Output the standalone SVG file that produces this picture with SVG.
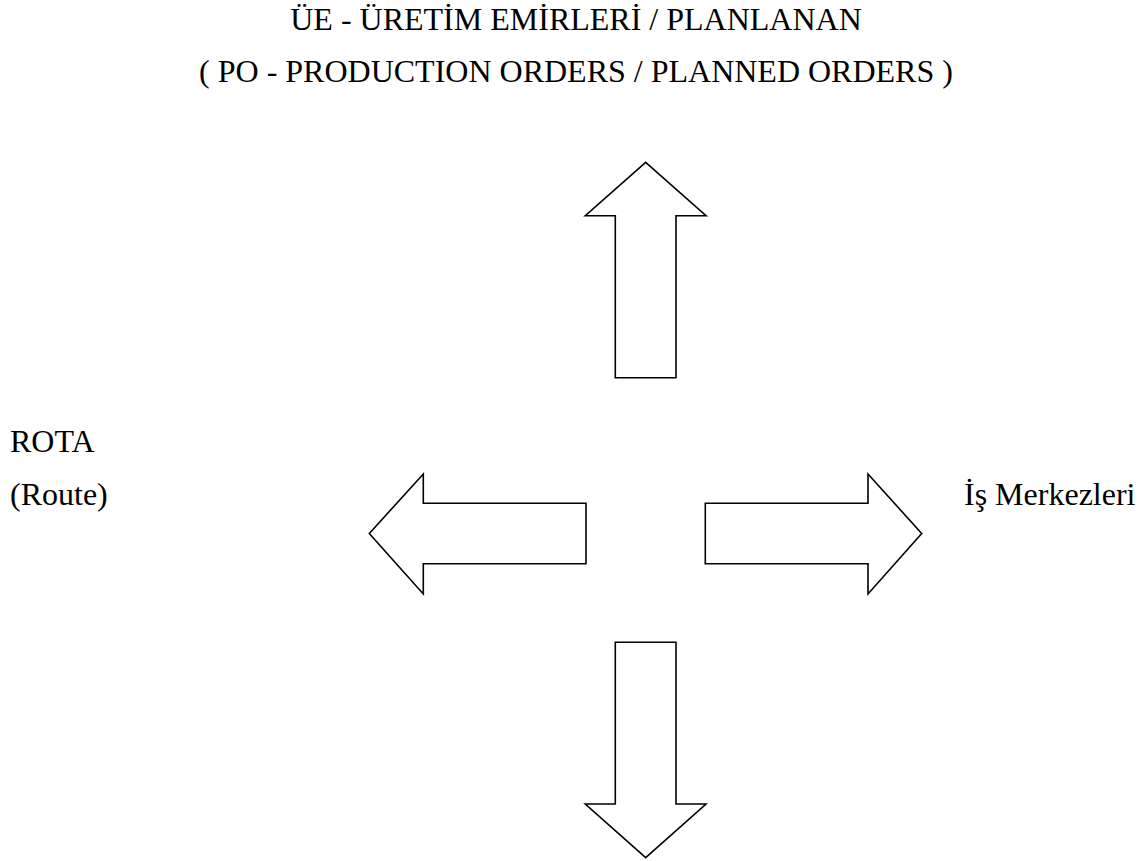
<svg xmlns="http://www.w3.org/2000/svg" width="1147" height="861" viewBox="0 0 1147 861">
  <style>
    text { font-family: "Liberation Serif", "Times New Roman", "DejaVu Serif", serif; font-size: 32px; fill: #000; }
    .block-arrow { fill: #fff; stroke: #000; stroke-width: 1.6; stroke-linejoin: miter; }
  </style>
  <rect width="1147" height="861" fill="#fff"/>

  <!-- title -->
  <g id="title">
    <text x="576" y="30" text-anchor="middle">ÜE - ÜRETİM EMİRLERİ / PLANLANAN</text>
    <text x="576" y="82" text-anchor="middle">( PO - PRODUCTION ORDERS / PLANNED ORDERS )</text>
  </g>

  <!-- side labels -->
  <g id="route">
    <text x="10" y="452">ROTA</text>
    <text x="10" y="505">(Route)</text>
  </g>
  <g id="work-centers">
    <text x="964" y="505">İş Merkezleri</text>
  </g>

  <!-- block arrows radiating from the centre -->
  <g id="connectors">
    <polygon id="arrow-up" class="block-arrow"
      points="645.7,162.3 706,215.7 676,215.7 676,377.7 615.3,377.7 615.3,215.7 585.3,215.7"/>
    <polygon id="arrow-left" class="block-arrow"
      points="369.3,533.5 423.3,474 423.3,503.3 586,503.3 586,563.7 423.3,563.7 423.3,594"/>
    <polygon id="arrow-right" class="block-arrow"
      points="921.7,533.5 868,474 868,503.3 705.3,503.3 705.3,563.7 868,563.7 868,594"/>
    <polygon id="arrow-down" class="block-arrow"
      points="645.7,857.7 706,804 676,804 676,642.3 615.3,642.3 615.3,804 585.3,804"/>
  </g>
</svg>
